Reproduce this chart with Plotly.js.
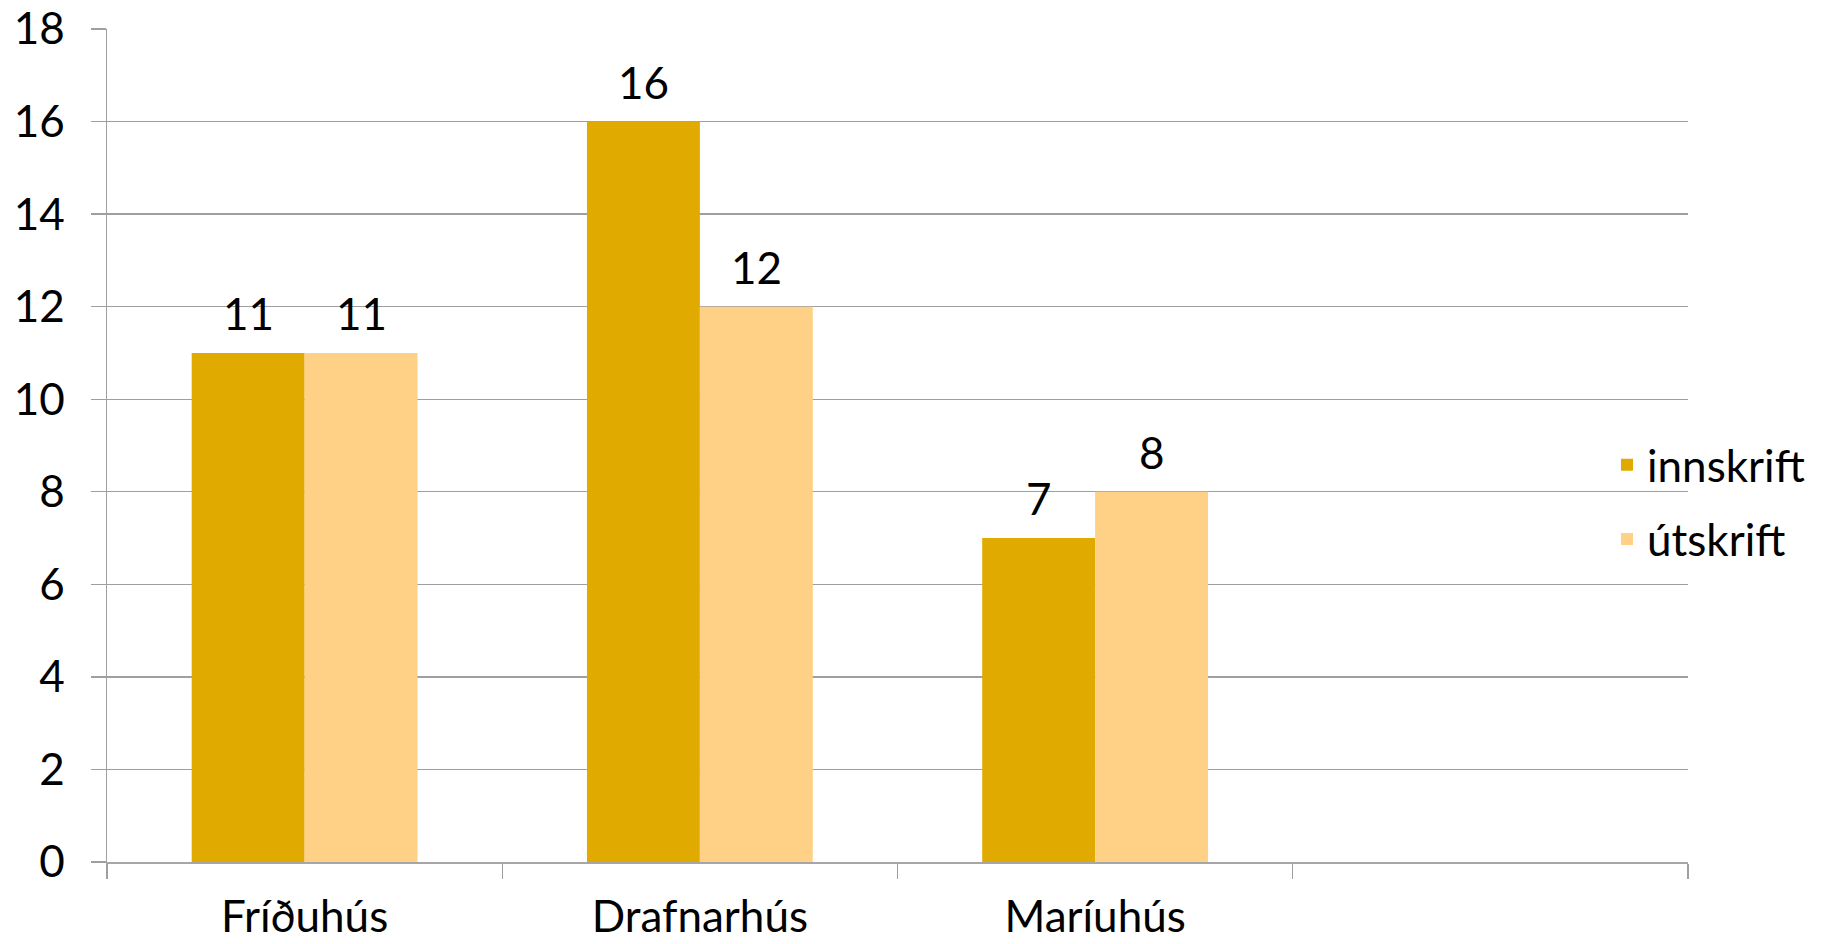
<!DOCTYPE html>
<html>
<head>
<meta charset="utf-8">
<script src="https://cdn.plot.ly/plotly-3.0.1.min.js"></script>
<style>html,body{margin:0;padding:0;background:#fff;}#chart{width:1822px;height:944px;}</style>
</head>
<body>
<div id="chart"></div>
<script>
const categories = ['Fríðuhús', 'Drafnarhús', 'Maríuhús', ' '];
const innskrift = [11, 16, 7, null];
const utskrift = [11, 12, 8, null];
const seriesNames = ['innskrift', 'útskrift'];
const seriesColors = ['#E1AA00', '#FFD186'];
const yTicks = [0, 2, 4, 6, 8, 10, 12, 14, 16, 18];

const W = 1822, H = 944;
const margin = {l: 107, r: 134, t: 29, b: 82, autoexpand: false};
const bargap = 0.4286;
const plotW = W - margin.l - margin.r;
const barPx = plotW / categories.length * (1 - bargap) / 2;

const font = 'Lato, "Open Sans", sans-serif';
const fs = 44;
const grid = '#9f9f9f';

const traces = [innskrift, utskrift].map((vals, i) => ({
  type: 'bar',
  name: seriesNames[i],
  legendgroup: 'g' + i,
  x: categories,
  y: vals,
  marker: {color: seriesColors[i], line: {width: 0}},
  hoverinfo: 'skip'
}));

const annotations = [];
[innskrift, utskrift].forEach((vals, i) => {
  vals.forEach((v, j) => {
    if (v === null) return;
    annotations.push({
      x: categories[j], y: v, xref: 'x', yref: 'y',
      text: String(v), showarrow: false,
      xshift: (i === 0 ? -1 : 1) * barPx / 2,
      yanchor: 'middle', yshift: 40,
      font: {family: font, size: fs, color: '#000'}
    });
  });
});

const layout = {
  width: W, height: H,
  margin: margin,
  paper_bgcolor: '#fff', plot_bgcolor: '#fff',
  barmode: 'group', bargap: bargap, bargroupgap: 0,
  font: {family: font, size: fs, color: '#000'},
  xaxis: {
    type: 'category',
    categoryorder: 'array', categoryarray: categories,
    range: [-0.5, categories.length - 0.5],
    tickson: 'boundaries',
    ticks: 'outside', ticklen: 15, tickwidth: 1.3, tickcolor: grid,
    showline: true, linecolor: '#a6a6a6', linewidth: 2,
    showgrid: false, zeroline: false,
    ticklabelstandoff: 15,
    tickfont: {family: font, size: fs, color: '#000'}
  },
  yaxis: {
    range: [0, 18],
    tickvals: yTicks,
    ticktext: yTicks.map(String),
    ticks: 'outside', ticklen: 15, tickwidth: 1.3, tickcolor: grid,
    showgrid: true, gridcolor: grid, gridwidth: 1.3,
    showline: true, linecolor: grid, linewidth: 1.3,
    zeroline: false,
    ticklabelstandoff: 17,
    tickfont: {family: font, size: fs, color: '#000'}
  },
  showlegend: true,
  legend: {
    xref: 'container', yref: 'container',
    x: 0.882, xanchor: 'left',
    y: 0.468, yanchor: 'middle',
    font: {family: font, size: fs, color: '#000'},
    tracegroupgap: 14,
    bgcolor: 'rgba(0,0,0,0)'
  },
  annotations: annotations
};

Plotly.newPlot('chart', traces, layout, {staticPlot: true, displayModeBar: false});
</script>
</body>
</html>
